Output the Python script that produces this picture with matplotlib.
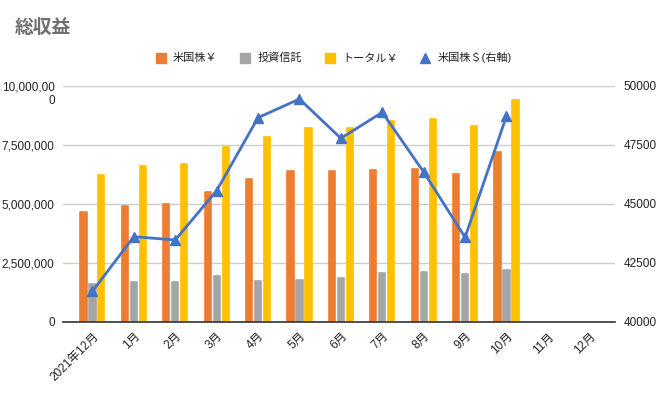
import numpy as np
import matplotlib
matplotlib.use("Agg")
import matplotlib.pyplot as plt
from matplotlib.lines import Line2D
from matplotlib.ticker import FuncFormatter

plt.rcParams['font.family'] = ['Liberation Sans', 'Noto Sans CJK JP']

months = ['2021年12月', '1月', '2月', '3月', '4月', '5月', '6月',
          '7月', '8月', '9月', '10月', '11月', '12月']
us_yen = [4650000, 4900000, 4990000, 5490000, 6060000, 6400000, 6400000,
          6440000, 6480000, 6260000, 7200000]
fund = [1610000, 1690000, 1690000, 1930000, 1740000, 1780000, 1860000,
        2080000, 2120000, 2030000, 2200000]
total_yen = [6220000, 6610000, 6680000, 7420000, 7840000, 8210000, 8210000,
             8520000, 8600000, 8310000, 9410000]
us_usd = [41300, 43616, 43474, 45565, 48657, 49449, 47783,
          48884, 46356, 43588, 48729]

c_orange = '#ed7d31'
c_gray = '#a5a5a5'
c_yellow = '#ffc000'
c_blue = '#4472c4'
txt = '#222222'

fig = plt.figure(figsize=(6.71, 3.99), dpi=100)
ax = fig.add_axes([0.0939, 0.193, 0.8226, 0.5915])
ax2 = ax.twinx()

x = np.arange(len(us_yen))
w = 0.15
off = 0.217
# thin same-colour edge with round joins to soften the bar corners
ax.bar(x - off, us_yen, w, color=c_orange, ec=c_orange, lw=1.2, joinstyle='round', zorder=3)
ax.bar(x, fund, w, color=c_gray, ec=c_gray, lw=1.2, joinstyle='round', zorder=3)
ax.bar(x + off, total_yen, w, color=c_yellow, ec=c_yellow, lw=1.2, joinstyle='round', zorder=3)

ax2.plot(x, us_usd, color=c_blue, lw=2, marker='^', ms=7, zorder=4)

ax.set_xlim(-0.71, 12.62)
ax.set_ylim(0, 10000000)
ax2.set_ylim(40000, 50000)

ax.set_yticks([0, 2500000, 5000000, 7500000, 10000000])
ax.yaxis.set_major_formatter(FuncFormatter(
    lambda v, p: '10,000,00' if v >= 10000000 else f'{int(v):,}'))
# wrapped last digit of the top label
ax.annotate('0', xy=(0, 10000000), xycoords=('axes fraction', 'data'),
            xytext=(-6, -11), textcoords='offset points', ha='right', va='center',
            fontsize=8.5, color=txt)
ax2.set_yticks([40000, 42500, 45000, 47500, 50000])

ax.set_xticks(np.arange(len(months)))
ax.set_xticklabels(months, rotation=45, ha='right', rotation_mode='anchor')

ax.grid(axis='y', color='#cccccc', lw=1, zorder=0)
for a in (ax, ax2):
    for s in ('top', 'left', 'right', 'bottom'):
        a.spines[s].set_visible(False)
    a.tick_params(length=0, labelsize=8.5, colors=txt)
ax.axhline(0, color='#333333', lw=1.2, zorder=5, clip_on=False)
ax.tick_params(axis='y', pad=6)
ax2.tick_params(axis='y', pad=6)
ax.tick_params(axis='x', pad=6)

fig.text(0.022, 0.93, '総収益', fontsize=13.5, fontweight='bold', color='#6f6f6f', va='center')

handles = [
    Line2D([], [], ls='none', marker='s', ms=7.5, color=c_orange),
    Line2D([], [], ls='none', marker='s', ms=7.5, color=c_gray),
    Line2D([], [], ls='none', marker='s', ms=7.5, color=c_yellow),
    Line2D([], [], ls='none', marker='^', ms=7, color=c_blue),
]
labels = ['米国株￥', '投資信託', 'トータル￥', '米国株＄(右軸)']
fig.legend(handles, labels, loc='center', bbox_to_anchor=(0.497, 0.855), ncol=4,
           frameon=False, fontsize=8, handlelength=1.0, handletextpad=0.6,
           columnspacing=2.0, labelcolor=txt)

fig.savefig('out.png', dpi=100)
